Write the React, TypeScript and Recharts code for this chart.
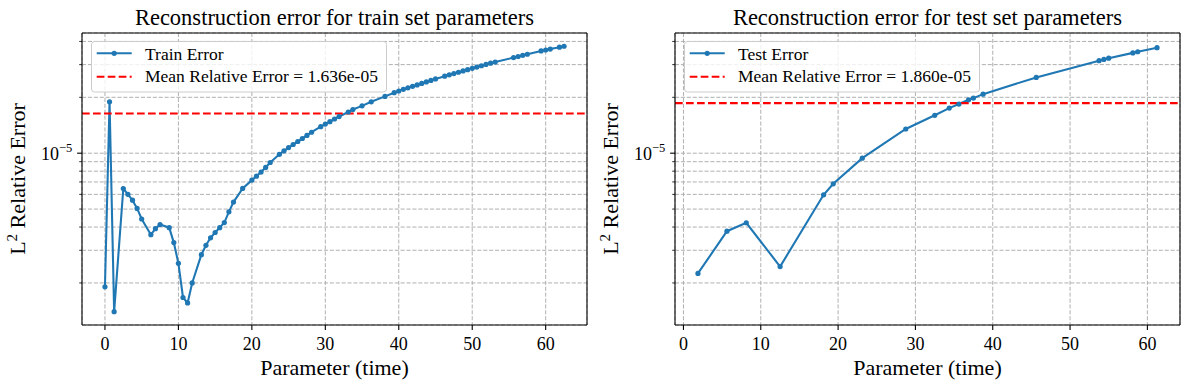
import React from 'react';
import { LineChart, Line, XAxis, YAxis, CartesianGrid, ReferenceLine, Legend, Label } from 'recharts';

const FONT = '"Liberation Serif", "Times New Roman", serif';
const BLUE = '#1f77b4';
const RED = '#ff0000';

const trainTime = [
  0, 0.625, 1.25, 2.5, 3.125, 3.75, 4.375, 5, 6.25, 6.875, 7.5, 8.75, 9.375, 10, 10.625, 11.25, 11.875,
  13.125, 13.75, 14.375, 15, 15.625, 16.25, 16.875, 17.5, 18.75, 20, 20.625, 21.25, 21.875, 22.5, 23.75,
  24.375, 25, 25.625, 26.25, 26.875, 27.5, 28.125, 29.375, 30, 30.625, 31.25, 31.875, 33.125, 33.75, 35,
  36.25, 38.125, 39.375, 40, 40.625, 41.25, 41.875, 42.5, 43.125, 43.75, 44.375, 45, 46.25, 46.875, 47.5,
  48.125, 48.75, 49.375, 50, 50.625, 51.25, 51.875, 52.5, 53.125, 55.625, 56.25, 56.875, 57.5, 59.375, 60,
  60.625, 61.875, 62.5,
];
const trainError = [
  1.905e-6, 1.89e-5, 1.4e-6, 6.45e-6, 6.0e-6, 5.58e-6, 5.04e-6, 4.42e-6, 3.64e-6, 3.92e-6, 4.13e-6, 3.97e-6,
  3.3e-6, 2.55e-6, 1.67e-6, 1.56e-6, 2.0e-6, 2.84e-6, 3.19e-6, 3.5e-6, 3.74e-6, 3.97e-6, 4.23e-6, 4.83e-6,
  5.45e-6, 6.46e-6, 7.16e-6, 7.52e-6, 7.91e-6, 8.38e-6, 8.91e-6, 9.86e-6, 1.03e-5, 1.072e-5, 1.114e-5,
  1.156e-5, 1.2e-5, 1.247e-5, 1.297e-5, 1.39e-5, 1.435e-5, 1.479e-5, 1.528e-5, 1.574e-5, 1.667e-5, 1.718e-5,
  1.799e-5, 1.892e-5, 2.023e-5, 2.118e-5, 2.163e-5, 2.208e-5, 2.249e-5, 2.291e-5, 2.333e-5, 2.377e-5,
  2.421e-5, 2.466e-5, 2.512e-5, 2.6e-5, 2.642e-5, 2.685e-5, 2.729e-5, 2.773e-5, 2.818e-5, 2.864e-5,
  2.911e-5, 2.958e-5, 3.006e-5, 3.055e-5, 3.097e-5, 3.273e-5, 3.319e-5, 3.365e-5, 3.412e-5, 3.556e-5,
  3.597e-5, 3.639e-5, 3.724e-5, 3.767e-5,
];

const testTime = [
  1.875, 5.625, 8.125, 12.5, 18.125, 19.375, 23.125, 28.75, 32.5, 34.375, 35.625, 36.875, 37.5, 38.75,
  45.625, 53.75, 54.375, 55, 58.125, 58.75, 61.25,
];
const testError = [
  2.25e-6, 3.8e-6, 4.22e-6, 2.45e-6, 5.97e-6, 6.84e-6, 9.4e-6, 1.35e-5, 1.6e-5, 1.75e-5, 1.84e-5, 1.94e-5,
  1.98e-5, 2.08e-5, 2.56e-5, 3.15e-5, 3.2e-5, 3.25e-5, 3.47e-5, 3.52e-5, 3.7e-5,
];

const trainMean = 1.636e-5;
const testMean = 1.86e-5;

const xTicks = [0, 10, 20, 30, 40, 50, 60];
const yTicks = [2e-6, 3e-6, 4e-6, 5e-6, 6e-6, 7e-6, 8e-6, 9e-6, 1e-5, 2e-5, 3e-5, 4e-5];
const yDomain: [number, number] = [1.187e-6, 4.441e-5];

const trainXDomain: [number, number] = [-3.125, 65.625];
const testXDomain: [number, number] = [-1.094, 64.219];

const trainData = trainTime.map((t, i) => ({ t, err: trainError[i] }));
const testData = testTime.map((t, i) => ({ t, err: testError[i] }));

const textStyle = { fontFamily: FONT };

const XTick = (props: any) => {
  const { x, y, payload } = props;
  return (
    <g>
      <line x1={x} x2={x} y1={y} y2={y + 4.9} stroke="#000" strokeWidth={1.1} />
      <text x={x} y={y + 25} textAnchor="middle" fontFamily={FONT} style={textStyle} fontSize={18} fill="#000">
        {payload.value}
      </text>
    </g>
  );
};

const YTick = (props: any) => {
  const { x, y, payload } = props;
  const v = payload.value as number;
  const lg = Math.log10(v);
  const major = Math.abs(lg - Math.round(lg)) < 1e-6;
  const exp = Math.round(lg);
  return (
    <g>
      <line x1={x} x2={x - (major ? 4.9 : 2.8)} y1={y} y2={y} stroke="#000" strokeWidth={major ? 1.1 : 0.8} />
      {major && (
        <text x={x - 9.8} y={y + 6.7} textAnchor="end" fontFamily={FONT} style={textStyle} fontSize={18} fill="#000">
          10
          <tspan dy={-8.3} fontSize={12.5}>
            {exp < 0 ? `\u2212${-exp}` : `${exp}`}
          </tspan>
        </text>
      )}
    </g>
  );
};

const YLabel = (props: any) => {
  const vb = props.viewBox || { x: 0, y: 33, width: 82, height: 292 };
  const cx = vb.x + 25;
  const cy = vb.y + vb.height / 2;
  return (
    <text transform={`translate(${cx},${cy}) rotate(-90)`} textAnchor="middle" fontFamily={FONT} style={textStyle} fontSize={22} fill="#000">
      L
      <tspan dy={-8.5} fontSize={15}>2</tspan>
      <tspan dy={8.5}>{' Relative Error'}</tspan>
    </text>
  );
};

const XLabel = (props: any) => {
  const vb = props.viewBox || { x: 82, y: 325, width: 505, height: 65 };
  return (
    <text x={vb.x + vb.width / 2} y={vb.y + 50} textAnchor="middle" fontFamily={FONT} style={textStyle} fontSize={22} fill="#000">
      Parameter (time)
    </text>
  );
};

const makeLegend = (seriesLabel: string, meanLabel: string) => () => (
  <svg width={297} height={52} style={{ display: 'block' }}>
    <rect x={0.5} y={0.5} width={295} height={50.5} rx={3} ry={3} fill="rgba(255,255,255,0.8)" stroke="#cccccc" strokeWidth={1} />
    <line x1={5.7} x2={40.7} y1={12.3} y2={12.3} stroke={BLUE} strokeWidth={2.08} />
    <circle cx={23.2} cy={12.3} r={2.6} fill={BLUE} />
    <text x={54} y={19} fontFamily={FONT} style={textStyle} fontSize={17.5} fill="#000">{seriesLabel}</text>
    <line x1={5.7} x2={40.7} y1={35.7} y2={35.7} stroke={RED} strokeWidth={2.08} strokeDasharray="7.7 3.3" />
    <text x={54} y={41.3} fontFamily={FONT} style={textStyle} fontSize={17.5} fill="#000">{meanLabel}</text>
  </svg>
);

type PanelProps = {
  data: { t: number; err: number }[];
  xDomain: [number, number];
  mean: number;
  seriesLabel: string;
  meanLabel: string;
};

const Panel = ({ data, xDomain, mean, seriesLabel, meanLabel }: PanelProps) => (
  <LineChart width={595} height={390} data={data} margin={{ top: 33, right: 8, bottom: 0, left: 0 }} style={textStyle}>
    <CartesianGrid stroke="#b0b0b0" strokeDasharray="4.1 1.8" strokeWidth={1} />
    <XAxis
      type="number"
      dataKey="t"
      domain={xDomain}
      allowDataOverflow
      ticks={xTicks}
      interval={0}
      height={65}
      tickSize={0}
      tickMargin={0}
      tickLine={false}
      axisLine={{ stroke: '#000', strokeWidth: 1.1 }}
      tick={<XTick />}
    >
      <Label content={<XLabel />} />
    </XAxis>
    <YAxis
      type="number"
      scale="log"
      domain={yDomain}
      allowDataOverflow
      ticks={yTicks}
      interval={0}
      width={82}
      tickSize={0}
      tickMargin={0}
      tickLine={false}
      axisLine={{ stroke: '#000', strokeWidth: 1.1 }}
      tick={<YTick />}
    >
      <Label content={<YLabel />} />
    </YAxis>
    <Line
      type="linear"
      dataKey="err"
      stroke={BLUE}
      strokeWidth={2.08}
      dot={{ r: 2.6, fill: BLUE, stroke: BLUE, strokeWidth: 0 }}
      activeDot={false}
      isAnimationActive={false}
    />
    <ReferenceLine y={mean} stroke={RED} strokeWidth={2.08} strokeDasharray="7.7 3.3" ifOverflow="visible" />
    <ReferenceLine y={yDomain[1]} stroke="#000" strokeWidth={1.1} ifOverflow="visible" />
    <ReferenceLine x={xDomain[1]} stroke="#000" strokeWidth={1.1} ifOverflow="visible" />
    <Legend
      layout="vertical"
      align="center"
      verticalAlign="middle"
      content={makeLegend(seriesLabel, meanLabel)}
      wrapperStyle={{ left: 91, top: 41, width: 297, height: 52, lineHeight: 0 }}
    />
  </LineChart>
);

export default function App() {
  return (
    <div style={{ position: 'absolute', left: 0, top: 0, width: 1190, height: 390, background: '#fff' }}>
      <div style={{ position: 'absolute', left: 0, top: 0 }}>
        <Panel
          data={trainData}
          xDomain={trainXDomain}
          mean={trainMean}
          seriesLabel="Train Error"
          meanLabel={`Mean Relative Error = ${trainMean.toExponential(3).replace('e-', 'e-0')}`}
        />
      </div>
      <div style={{ position: 'absolute', left: 593, top: 0 }}>
        <Panel
          data={testData}
          xDomain={testXDomain}
          mean={testMean}
          seriesLabel="Test Error"
          meanLabel={`Mean Relative Error = ${testMean.toExponential(3).replace('e-', 'e-0')}`}
        />
      </div>
      <svg width={1190} height={390} style={{ position: 'absolute', left: 0, top: 0, pointerEvents: 'none' }}>
        <text x={334.5} y={25} textAnchor="middle" fontFamily={FONT} style={textStyle} fontSize={22.5} fill="#000">
          Reconstruction error for train set parameters
        </text>
        <text x={927.5} y={25} textAnchor="middle" fontFamily={FONT} style={textStyle} fontSize={22.5} fill="#000">
          Reconstruction error for test set parameters
        </text>
      </svg>
    </div>
  );
}
